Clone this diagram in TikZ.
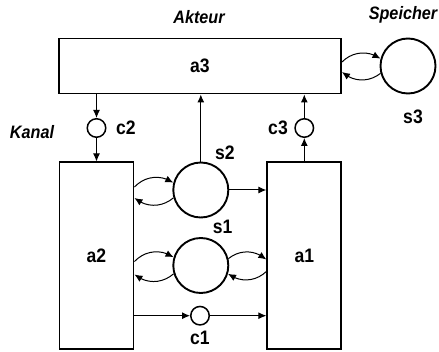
\documentclass[tikz,border=0pt]{standalone}
\usepackage{fontspec}
\setmainfont{Liberation Sans}[FakeStretch=0.9]
\usetikzlibrary{arrows.meta,bending}
\begin{document}
\begin{tikzpicture}[x=1pt,y=1pt,
  box/.style={draw,line width=1.9pt,inner sep=0pt,font=\bfseries\fontsize{19.5}{21}\selectfont},
  place/.style={circle,draw,line width=1.9pt,minimum size=55pt,inner sep=0pt},
  chan/.style={circle,draw,line width=1.5pt,minimum size=18.5pt,inner sep=0pt},
  lbl/.style={font=\bfseries\fontsize{19.5}{21}\selectfont,inner sep=0pt},
  ilbl/.style={font=\bfseries\itshape\fontsize{18}{20}\selectfont,inner sep=0pt},
  arr/.style={-{Latex[length=8pt,width=7pt]},line width=1pt},
  loop/.style={arr,bend left=40}]
\useasboundingbox (0,0) rectangle (439,351);
% actors
\node[box,minimum width=282pt,minimum height=55pt] (a3) at (200,285) {\raisebox{-1.5pt}{a3}};
\node[box,minimum width=74pt,minimum height=186.5pt] (a2) at (96.5,95.3) {a2};
\node[box,minimum width=74pt,minimum height=186.5pt] (a1) at (304.3,95.3) {a1};
% places
\node[place] (s3) at (408,285) {};
\node[place] (s2) at (200.8,161) {};
\node[place] (s1) at (200.8,85.5) {};
% channels
\node[chan] (c1) at (200,35.3) {};
\node[chan] (c2) at (96.5,223) {};
\node[chan] (c3) at (304.3,223) {};
% labels
\node[ilbl] (lAkteur) at (199,334) {Akteur};
\node[ilbl] (lSpeicher) at (403,336) {Speicher};
\node[ilbl] (lKanal) at (32,219) {Kanal};
\node[lbl] (ls3) at (413,234) {s3};
\node[lbl] (lc2) at (126,223) {c2};
\node[lbl] (lc3) at (278,223) {c3};
\node[lbl] (ls2) at (225,198) {s2};
\node[lbl] (ls1) at (222.7,124) {s1};
\node[lbl] (lc1) at (200,13) {c1};
% helper coordinates
\coordinate (a3e) at (a3.east);
\coordinate (a2s2) at (s2 -| a2.east);
\coordinate (a2s1) at (s1 -| a2.east);
\coordinate (a1s1) at (s1 -| a1.west);
% straight connectors
\draw[arr] (c2 |- a3.south) -- (c2.north);
\draw[arr] (c2.south) -- (c2 |- a2.north);
\draw[arr] (s2.north) -- (s2 |- a3.south);
\draw[arr] (s2.east) -- (s2 -| a1.west);
\draw[arr] (c3 |- a1.north) -- (c3.south);
\draw[arr] (c3.north) -- (c3 |- a3.south);
\draw[arr] (c1 -| a2.east) -- (c1.west);
\draw[arr] (c1.east) -- (c1 -| a1.west);
% loops a3 <-> s3
\draw[loop] ([yshift=4pt]a3e) to (s3.165);
\draw[loop] (s3.195) to ([yshift=-6pt]a3e);
% loops a2 <-> s2
\draw[loop] ([yshift=3pt]a2s2) to (s2.165);
\draw[loop] (s2.196) to ([yshift=-8pt]a2s2);
% loops a2 <-> s1
\draw[loop] ([yshift=4pt]a2s1) to (s1.163);
\draw[loop] (s1.197) to ([yshift=-9pt]a2s1);
% loops s1 <-> a1
\draw[loop] (s1.14) to ([yshift=6pt]a1s1);
\draw[loop] ([yshift=-6pt]a1s1) to (s1.343);
\end{tikzpicture}
\end{document}
